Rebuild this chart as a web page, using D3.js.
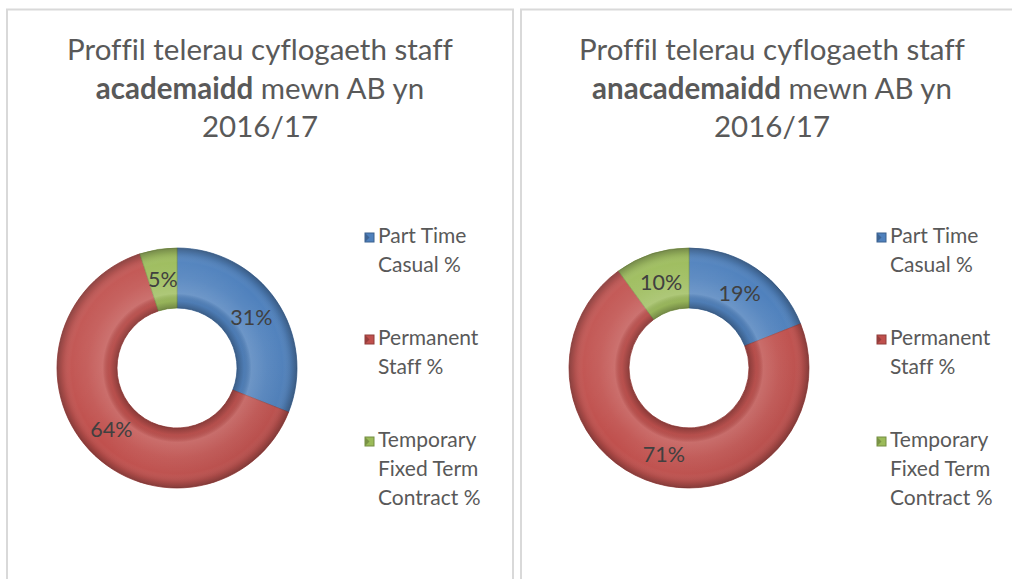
<!DOCTYPE html>
<html>
<head>
<meta charset="utf-8">
<script src="https://cdn.jsdelivr.net/npm/d3@7"></script>
<style>
  body { margin: 0; background: #fff; }
  svg { display: block; font-family: Lato, "Open Sans", sans-serif; font-variant-ligatures: none; }
</style>
</head>
<body>
<div id="chart"></div>
<script>
// categories and values (percent)
var categories = ["Part Time Casual %", "Permanent Staff %", "Temporary Fixed Term Contract %"];
var legendLines = [["Part Time", "Casual %"], ["Permanent", "Staff %"], ["Temporary", "Fixed Term", "Contract %"]];
var academicValues = [31, 64, 5];
var nonAcademicValues = [19, 71, 10];
var titleBoldWords = ["academaidd", "anacademaidd"];

var colors = ["#4f81bd", "#c0504d", "#9bbb59"];

var width = 1012, height = 579;

var svg = d3.select("#chart").append("svg")
    .attr("width", width)
    .attr("height", height);

var defs = svg.append("defs");

var panels = [
  {x: 7, w: 506, cx: 177, tx: 260, values: academicValues, bold: titleBoldWords[0]},
  {x: 521, w: 520, cx: 689, tx: 772, values: nonAcademicValues, bold: titleBoldWords[1]}
];

var outerR = 120, innerR = 60, cy = 368;

var pie = d3.pie().sort(null).value(function(d) { return d; });
var arc = d3.arc().innerRadius(innerR).outerRadius(outerR);

// bevel shading for the ring (gradient centred on the donut's own origin)
var bevel = defs.append("radialGradient")
    .attr("id", "bevel")
    .attr("gradientUnits", "userSpaceOnUse")
    .attr("cx", 0).attr("cy", 0).attr("r", outerR);
[[0.5, "#000", 0.28], [0.56, "#000", 0.05], [0.62, "#fff", 0.16], [0.75, "#fff", 0.06],
 [0.88, "#fff", 0], [0.95, "#000", 0.1], [1, "#000", 0.3]].forEach(function(s) {
  bevel.append("stop").attr("offset", s[0]).attr("stop-color", s[1]).attr("stop-opacity", s[2]);
});
var light = defs.append("linearGradient")
    .attr("id", "light")
    .attr("gradientUnits", "userSpaceOnUse")
    .attr("x1", -outerR).attr("y1", -outerR).attr("x2", outerR).attr("y2", outerR);
light.append("stop").attr("offset", 0).attr("stop-color", "#fff").attr("stop-opacity", 0.1);
light.append("stop").attr("offset", 0.5).attr("stop-color", "#fff").attr("stop-opacity", 0);
light.append("stop").attr("offset", 1).attr("stop-color", "#000").attr("stop-opacity", 0.1);

panels.forEach(function(p) {
  // panel border
  svg.append("rect")
      .attr("x", p.x).attr("y", 9.5)
      .attr("width", p.w).attr("height", 600)
      .attr("fill", "none")
      .attr("stroke", "#d9d9d9")
      .attr("stroke-width", 2);

  // title
  var title = svg.append("text")
      .attr("text-anchor", "middle")
      .attr("fill", "#595959")
      .style("font-size", "29.5px");
  title.append("tspan").attr("x", p.tx).attr("y", 60).text("Proffil telerau cyflogaeth staff");
  var l2 = title.append("tspan").attr("x", p.tx).attr("y", 98.5);
  l2.append("tspan").attr("font-weight", "bold").text(p.bold);
  l2.append("tspan").text(" mewn AB yn");
  title.append("tspan").attr("x", p.tx).attr("y", 137).text("2016/17");

  // donut
  var g = svg.append("g").attr("transform", "translate(" + p.cx + "," + cy + ")");
  var arcs = pie(p.values);

  g.selectAll("path.slice")
    .data(arcs)
    .enter().append("path")
      .attr("class", "slice")
      .attr("d", arc)
      .attr("fill", function(d, i) { return colors[i]; })
      .attr("stroke", function(d, i) { return d3.color(colors[i]).darker(0.5); })
      .attr("stroke-width", 0.8);

  g.selectAll("path.shade")
    .data(arcs)
    .enter().append("path")
      .attr("class", "shade")
      .attr("d", arc)
      .attr("fill", "url(#bevel)");

  g.selectAll("path.light")
    .data(arcs)
    .enter().append("path")
      .attr("class", "light")
      .attr("d", arc)
      .attr("fill", "url(#light)");

  g.selectAll("text")
    .data(arcs)
    .enter().append("text")
      .attr("transform", function(d) { return "translate(" + arc.centroid(d) + ")"; })
      .attr("text-anchor", "middle")
      .attr("dy", "0.36em")
      .attr("fill", "#404040")
      .style("font-size", "21.5px")
      .text(function(d) { return d.value + "%"; });

  // legend
  var lx = p.cx + 188;
  legendLines.forEach(function(lines, i) {
    var ly = 243 + i * 102;
    var c = d3.color(colors[i]);
    svg.append("rect")
        .attr("x", lx).attr("y", ly - 10)
        .attr("width", 9).attr("height", 9)
        .attr("fill", colors[i])
        .attr("stroke", c.darker(0.8))
        .attr("stroke-width", 1);
    svg.append("path")
        .attr("d", "M" + lx + "," + (ly - 10) + "L" + (lx + 4.5) + "," + (ly - 5.5) + "L" + lx + "," + (ly - 1) + "Z")
        .attr("fill", c.darker(0.7));
    var t = svg.append("text")
        .attr("fill", "#595959")
        .style("font-size", "21px");
    lines.forEach(function(s, j) {
      t.append("tspan").attr("x", lx + 13).attr("y", ly + j * 29).text(s);
    });
  });
});
</script>
</body>
</html>
